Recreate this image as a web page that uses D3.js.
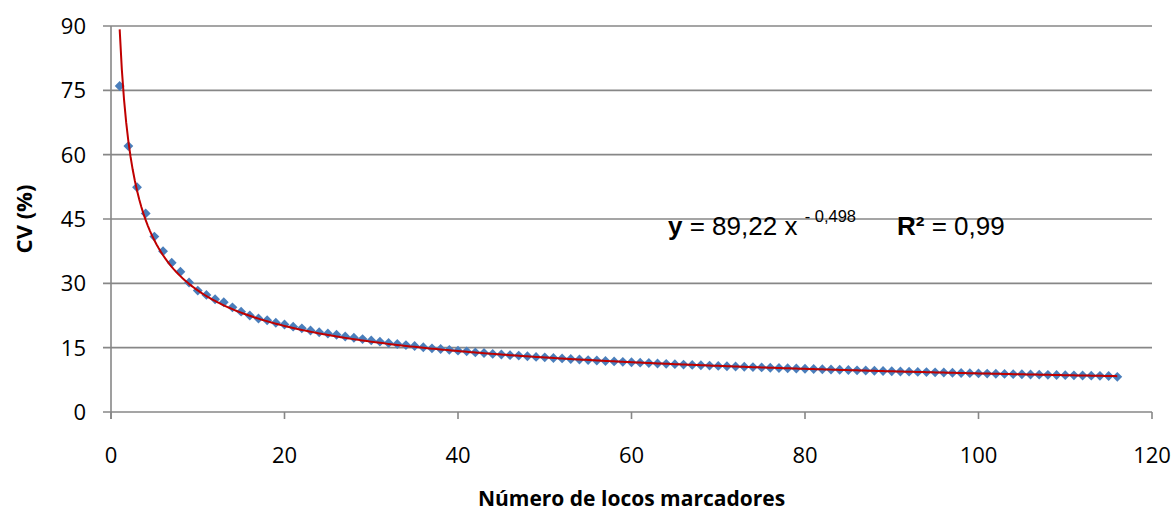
<!DOCTYPE html>
<html>
<head>
<meta charset="utf-8">
<script src="https://cdn.jsdelivr.net/npm/d3@7"></script>
<style>
  body { margin: 0; background: #fff; }
  svg { display: block; }
  text { white-space: pre; }
</style>
</head>
<body>
<div id="chart"></div>
<script>
// CV (%) per number of marker loci
const loci = d3.range(1, 117);
const cv = [
  76.0, 62.0, 52.4, 46.3, 40.9, 37.5, 34.8, 32.7, 30.2, 28.3,
  27.3, 26.3, 25.6, 24.4, 23.4, 22.5, 21.8, 21.4, 20.8, 20.4,
  19.9, 19.5, 19.0, 18.6, 18.3, 18.0, 17.6, 17.3, 17.0, 16.7,
  16.4, 16.1, 15.85, 15.6, 15.4, 15.1, 14.85, 14.7, 14.5, 14.3,
  14.15, 13.9, 13.75, 13.55, 13.4, 13.25, 13.15, 13.0, 12.85, 12.75,
  12.6, 12.5, 12.35, 12.25, 12.1, 12.0, 11.9, 11.8, 11.7, 11.6,
  11.5, 11.42, 11.32, 11.23, 11.15, 11.06, 10.98, 10.9, 10.82, 10.75,
  10.68, 10.6, 10.54, 10.47, 10.4, 10.33, 10.27, 10.2, 10.14, 10.08,
  10.02, 9.96, 9.9, 9.84, 9.78, 9.72, 9.67, 9.62, 9.56, 9.5,
  9.45, 9.4, 9.35, 9.3, 9.25, 9.2, 9.15, 9.1, 9.05, 9.0,
  8.96, 8.92, 8.88, 8.83, 8.79, 8.75, 8.71, 8.67, 8.63, 8.59,
  8.55, 8.51, 8.47, 8.43, 8.39, 8.2
];
const xTicks = [0, 20, 40, 60, 80, 100, 120];
const yTicks = [0, 15, 30, 45, 60, 75, 90];
// power trend line shown on the chart: y = 89,22 x^-0,498
const fitA = 89.22, fitB = -0.498;

const W = 1175, H = 515;
const plotL = 111, plotR = 1152, plotT = 26, plotB = 412;
const grid = '#878787';

const svg = d3.select('#chart').append('svg')
  .attr('width', W).attr('height', H);

const x = d3.scaleLinear().domain([0, 120]).range([plotL, plotR]);
const y = d3.scaleLinear().domain([0, 90]).range([plotB, plotT]);

// horizontal gridlines (with small outside tick on the left)
svg.append('g')
  .selectAll('line')
  .data(yTicks)
  .join('line')
  .attr('x1', plotL - 8).attr('x2', plotR)
  .attr('y1', d => y(d)).attr('y2', d => y(d))
  .attr('stroke', grid).attr('stroke-width', 1.6);

// y axis line
svg.append('line')
  .attr('x1', plotL).attr('x2', plotL)
  .attr('y1', plotT).attr('y2', plotB + 7)
  .attr('stroke', grid).attr('stroke-width', 1.6);

// x ticks
svg.append('g')
  .selectAll('line')
  .data(xTicks)
  .join('line')
  .attr('x1', d => x(d)).attr('x2', d => x(d))
  .attr('y1', plotB).attr('y2', plotB + 7)
  .attr('stroke', grid).attr('stroke-width', 1.6);

const font = "'Open Sans', 'Noto Sans', sans-serif";

svg.append('g')
  .selectAll('text')
  .data(yTicks)
  .join('text')
  .attr('x', 86).attr('y', d => y(d))
  .attr('dy', '0.36em')
  .attr('text-anchor', 'end')
  .attr('font-family', font).attr('font-size', 22)
  .attr('fill', '#000')
  .text(d => d);

svg.append('g')
  .selectAll('text')
  .data(xTicks)
  .join('text')
  .attr('x', d => x(d)).attr('y', 455)
  .attr('dy', '0.36em')
  .attr('text-anchor', 'middle')
  .attr('font-family', font).attr('font-size', 22)
  .attr('fill', '#000')
  .text(d => d);

// axis titles
svg.append('text')
  .attr('transform', `translate(32, ${(plotT + plotB) / 2}) rotate(-90)`)
  .attr('text-anchor', 'middle')
  .attr('font-family', font).attr('font-size', 22).attr('font-weight', 'bold')
  .text('CV (%)');

svg.append('text')
  .attr('x', (plotL + plotR) / 2).attr('y', 506)
  .attr('text-anchor', 'middle')
  .attr('font-family', font).attr('font-size', 21).attr('font-weight', 'bold')
  .text('Número de locos marcadores');

const fitX = d3.range(1, 116.01, 0.25);
const fitLine = d3.line().x(d => x(d)).y(d => y(fitA * Math.pow(d, fitB)));

// diamond markers
const diamond = d3.symbol().type(d3.symbolDiamond2).size(62);
svg.append('g')
  .selectAll('path')
  .data(loci)
  .join('path')
  .attr('transform', (d, i) => `translate(${x(d)}, ${y(cv[i])})`)
  .attr('d', diamond)
  .attr('fill', '#4a7ebb');

// trend line drawn over the markers
svg.append('path')
  .datum(fitX)
  .attr('fill', 'none')
  .attr('stroke', '#c00000')
  .attr('stroke-width', 2)
  .attr('d', fitLine);

// equation text
const eqFont = "'Liberation Sans', Arial, sans-serif";
const eq = svg.append('text')
  .attr('x', 668).attr('y', 235)
  .attr('font-family', eqFont)
  .attr('font-size', 26).attr('fill', '#000');
eq.append('tspan').attr('font-weight', 'bold').text('y');
eq.append('tspan').text(' = 89,22 x ');
eq.append('tspan').attr('dy', -13).attr('font-size', 16.5).text('- 0,498');

const r2 = svg.append('text')
  .attr('x', 897).attr('y', 235)
  .attr('font-family', eqFont)
  .attr('font-size', 26).attr('fill', '#000');
r2.append('tspan').attr('font-weight', 'bold').text('R²');
r2.append('tspan').text(' = 0,99');
</script>
</body>
</html>
